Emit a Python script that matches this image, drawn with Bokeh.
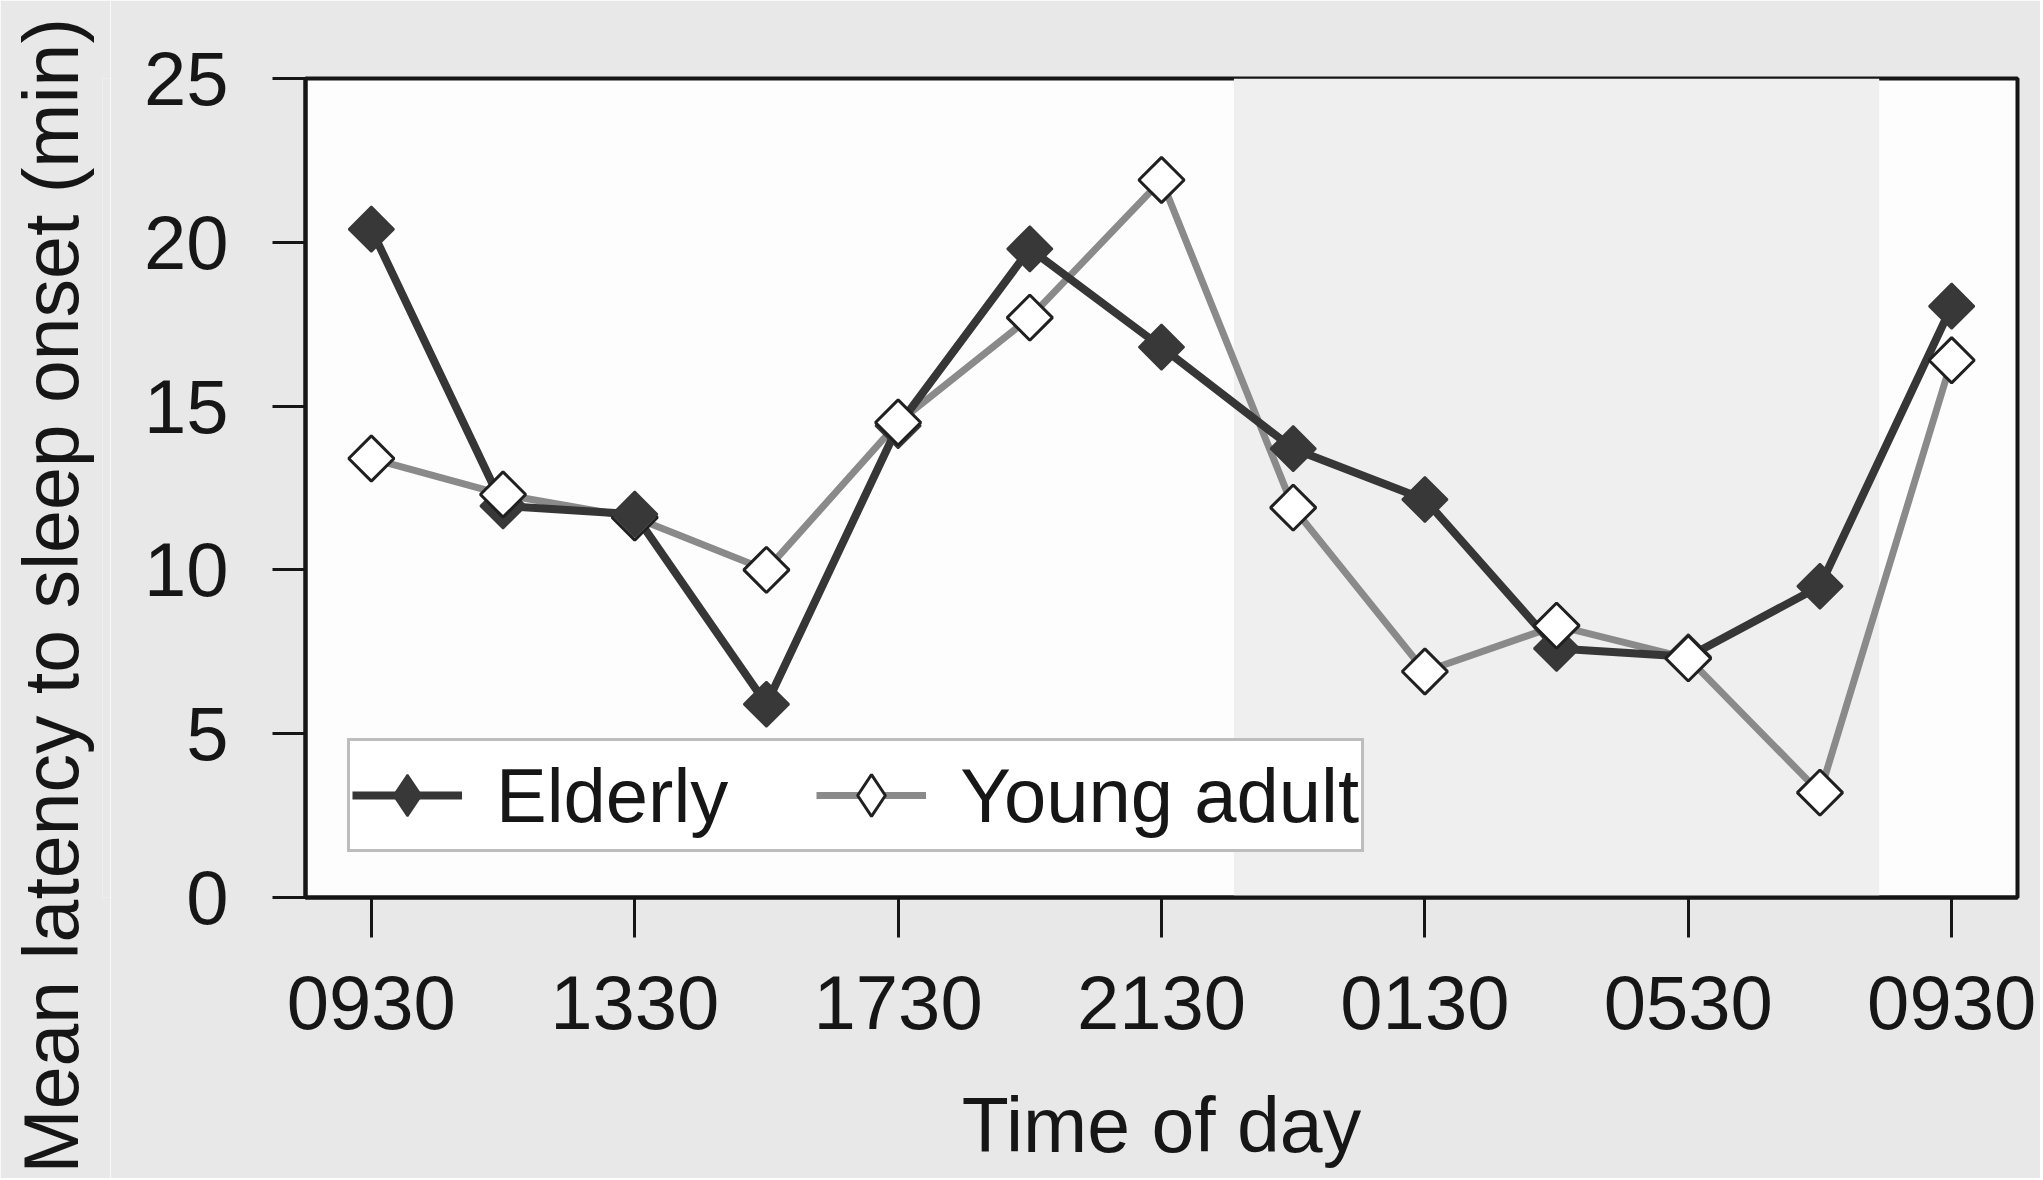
from math import pi
from bokeh.plotting import figure
from bokeh.layouts import row
from bokeh.models import (Range1d, FixedTicker, Title, Legend, LegendItem,
                          BoxAnnotation, ColumnDataSource, CDSView, IndexFilter)
from bokeh.embed import file_html
from bokeh.resources import INLINE

# ---- data ----
times = ["0930", "1130", "1330", "1530", "1730", "1930", "2130",
         "2330", "0130", "0330", "0530", "0730", "0930"]
elderly = [20.4, 11.95, 11.7, 5.9, 14.4, 19.8, 16.8, 13.7, 12.15, 7.6, 7.35, 9.5, 18.05]
young_adult = [13.4, 12.3, 11.6, 10.0, 14.5, 17.7, 21.9, 11.9, 6.9, 8.3, 7.3, 3.2, 16.4]
y_ticks = [0, 5, 10, 15, 20, 25]
night_span = [6.55, 11.45]          # shaded (night) band, in time-slot units
y_title = "Mean latency to sleep onset (min)"

slots = list(range(len(times)))
tick_slots = slots[::2]

FONT = "Liberation Sans"
INK = "#161616"
PAGE = "#e8e8e8"
W, H = 2040, 1178
TITLE_W = 110
B_TOP, B_BOTTOM = 78, H - 897

src = ColumnDataSource(dict(x=slots, eld=elderly, yng=young_adult))
nan_src = ColumnDataSource(dict(x=[float("nan")], y=[float("nan")]))

# ---- narrow strip holding the rotated y-axis title ----
tf = figure(width=TITLE_W, height=H, output_backend="svg", toolbar_location=None,
            x_range=Range1d(0, 1), y_range=Range1d(0, 1),
            x_axis_location=None, y_axis_location=None,
            min_border_left=0, min_border_right=0,
            min_border_top=B_TOP, min_border_bottom=B_BOTTOM,
            title=None, background_fill_color=PAGE, border_fill_color=PAGE,
            outline_line_color=None)
tf.grid.visible = False
tf.add_layout(Title(text=y_title, align="left", offset=-276,
                    vertical_align="top", standoff=14,
                    text_font=FONT, text_font_size="77px",
                    text_font_style="normal", text_color=INK), "left")

# ---- main chart ----
p = figure(width=W - TITLE_W, height=H, output_backend="svg", toolbar_location=None,
           x_range=Range1d(-0.5, len(times) - 0.5), y_range=Range1d(0, 25),
           min_border_left=305 - TITLE_W, min_border_right=W - 2017,
           min_border_top=B_TOP, min_border_bottom=B_BOTTOM,
           background_fill_color="#fdfdfd", border_fill_color=PAGE, title=None)

p.outline_line_color = INK
p.outline_line_width = 4
p.grid.visible = False

# night shading
p.add_layout(BoxAnnotation(left=night_span[0], right=night_span[1],
                           fill_color="#efefef", fill_alpha=1.0,
                           line_color=None, level="underlay"))

# axes
xa = p.xaxis[0]
xa.ticker = FixedTicker(ticks=tick_slots)
xa.major_label_overrides = {i: times[i] for i in tick_slots}
xa.minor_tick_line_color = None
xa.major_tick_out = 40
xa.major_tick_in = 0
xa.major_tick_line_width = 3
xa.major_tick_line_color = INK
xa.axis_line_width = 4
xa.axis_line_color = INK
xa.major_label_text_font = FONT
xa.major_label_text_font_size = "76px"
xa.major_label_text_color = INK
xa.major_label_standoff = 38
xa.axis_label = "Time of day"
xa.axis_label_text_font = FONT
xa.axis_label_text_font_size = "77px"
xa.axis_label_text_font_style = "normal"
xa.axis_label_text_color = INK
xa.axis_label_standoff = 50

ya = p.yaxis[0]
ya.ticker = FixedTicker(ticks=y_ticks)
ya.minor_tick_line_color = None
ya.major_tick_out = 33
ya.major_tick_in = 0
ya.major_tick_line_width = 3
ya.major_tick_line_color = INK
ya.axis_line_width = 4
ya.axis_line_color = INK
ya.major_label_text_font = FONT
ya.major_label_text_font_size = "76px"
ya.major_label_text_color = INK
ya.major_label_standoff = 44

# series
yl = p.line("x", "yng", source=src, line_color="#8a8a8a", line_width=7)
el = p.line("x", "eld", source=src, line_color="#363636", line_width=8)

# young marker hidden beneath the elderly marker at 1330
p.scatter("x", "yng", source=src, view=CDSView(filter=IndexFilter([2])),
          marker="square", size=32, angle=pi / 4,
          fill_color="white", line_color="#202020", line_width=3)
p.scatter("x", "eld", source=src, marker="square", size=32, angle=pi / 4,
          fill_color="#383838", line_color="#383838", line_width=2)
top_idx = [i for i in slots if i != 2]
p.scatter("x", "yng", source=src, view=CDSView(filter=IndexFilter(top_idx)),
          marker="square", size=32, angle=pi / 4,
          fill_color="white", line_color="#202020", line_width=3)

# diamond swatches for the legend (nothing drawn inside the plot)
em_leg = p.scatter("x", "y", source=nan_src, marker="diamond", size=32,
                   fill_color="#383838", line_color="#383838", line_width=2)
ym_leg = p.scatter("x", "y", source=nan_src, marker="diamond", size=32,
                   fill_color="white", line_color="#202020", line_width=3)

legend = Legend(items=[LegendItem(label="Elderly", renderers=[el, em_leg]),
                       LegendItem(label="Young adult", renderers=[yl, ym_leg])],
                orientation="horizontal", location=(42, 45),
                glyph_width=110, glyph_height=104, label_standoff=34, spacing=88,
                padding=2, margin=0,
                label_text_font=FONT, label_text_font_size="76px",
                label_text_color=INK,
                border_line_color="#7c7c7c", border_line_width=3,
                background_fill_color="white", background_fill_alpha=1.0)
p.add_layout(legend)

open("out.html", "w").write(file_html(row(tf, p), INLINE))
